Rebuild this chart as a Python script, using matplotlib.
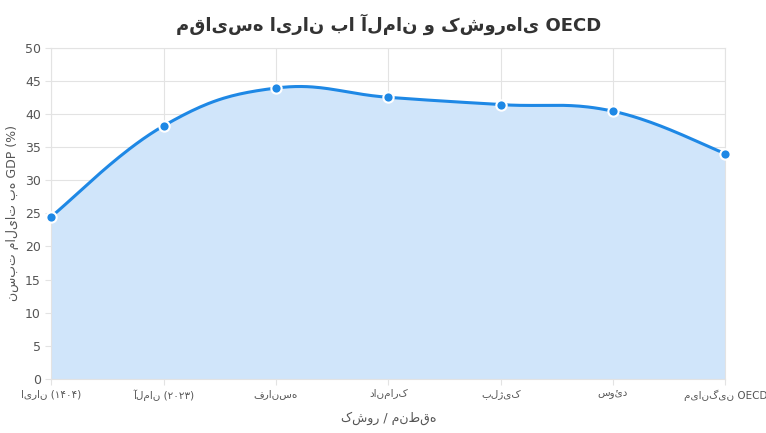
import numpy as np
import matplotlib
matplotlib.use("Agg")
import matplotlib.pyplot as plt

plt.rcParams['font.family'] = ['DejaVu Sans']

countries = ["ایران (۱۴۰۴)", "آلمان (۲۰۲۳)", "فرانسه", "دانمارک", "بلژیک", "سوئد", "میانگین OECD"]
tax_ratio = [24.5, 38.2, 43.9, 42.5, 41.4, 40.4, 34.0]

title = "مقایسه ایران با آلمان و کشورهای OECD"
ylabel = "نسبت مالیات به GDP (%)"
xlabel = "کشور / منطقه"

# chart.js style smoothing (tension 0.4)
def smooth(x, y, t=0.4, n=40):
    x = np.asarray(x, float); y = np.asarray(y, float)
    xs, ys = [], []
    for i in range(len(x) - 1):
        p0 = i - 1 if i > 0 else i
        p3 = i + 2 if i + 2 < len(x) else i + 1
        c1x = x[i] + (x[i+1] - x[p0]) * t / 2
        c1y = y[i] + (y[i+1] - y[p0]) * t / 2
        c2x = x[i+1] - (x[p3] - x[i]) * t / 2
        c2y = y[i+1] - (y[p3] - y[i]) * t / 2
        s = np.linspace(0, 1, n)
        xs.append((1-s)**3*x[i] + 3*(1-s)**2*s*c1x + 3*(1-s)*s**2*c2x + s**3*x[i+1])
        ys.append((1-s)**3*y[i] + 3*(1-s)**2*s*c1y + 3*(1-s)*s**2*c2y + s**3*y[i+1])
    return np.concatenate(xs), np.concatenate(ys)

x = np.arange(len(countries))
sx, sy = smooth(x, tax_ratio)

fig = plt.figure(figsize=(7.66, 4.33), dpi=100)
ax = fig.add_axes([0.067, 0.125, 0.88, 0.765])
ax.fill_between(sx, sy, 0, color='#d0e5fa', zorder=1)
ax.plot(sx, sy, color='#1e88e5', lw=2.2, zorder=2)
ax.scatter(x, tax_ratio, s=55, color='#1e88e5', edgecolor='white', linewidth=1.5,
           zorder=3, clip_on=False)

ax.set_xlim(0, len(countries) - 1)
ax.set_ylim(0, 50)
ax.set_yticks(range(0, 51, 5))
ax.set_xticks(x)
ax.set_xticklabels(countries, fontsize=7.5, color='#555555')
ax.tick_params(axis='y', labelsize=9, colors='#555555')
ax.grid(True, color='#e3e3e3', lw=0.8)
ax.set_axisbelow(True)
for s in ax.spines.values():
    s.set_color('#e3e3e3')
ax.tick_params(length=4, color='#e3e3e3')
ax.set_title(title, fontsize=13, fontweight='bold', color='#333333', pad=12)
ax.set_xlabel(xlabel, fontsize=9, color='#555555', labelpad=8)
ax.set_ylabel(ylabel, fontsize=9, color='#555555')

fig.savefig("out.png", dpi=100)
